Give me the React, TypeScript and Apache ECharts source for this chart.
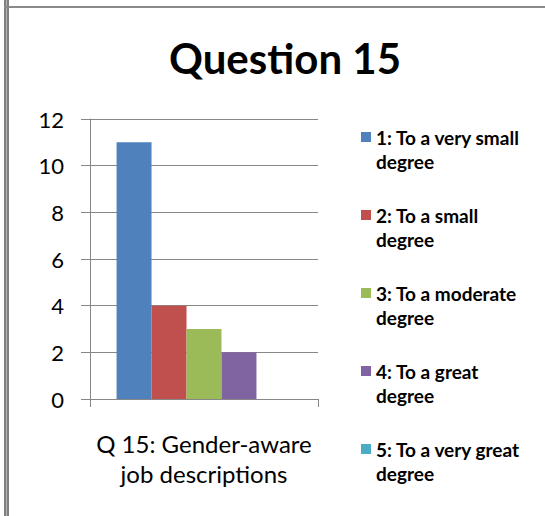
import React, { useEffect, useRef } from "react";
import * as echarts from "echarts";

const titleText = "Question 15";
const categories = ["Q 15: Gender-aware\njob descriptions"];
const seriesNames = [
  "1: To a very small\ndegree",
  "2: To a small\ndegree",
  "3: To a moderate\ndegree",
  "4: To a great\ndegree",
  "5: To a very great\ndegree",
];
const seriesValues = [11, 4, 3, 2, 0];
const seriesColors = ["#4F81BD", "#C0504D", "#9BBB59", "#8064A2", "#4BACC6"];
const yMin = 0;
const yMax = 12;
const yInterval = 2;

const FONT = "Lato, 'Open Sans', sans-serif";
const GRID_COLOR = "#878787";

export default function App() {
  const ref = useRef<HTMLDivElement>(null);
  useEffect(() => {
    if (!ref.current) return;
    const chart = echarts.init(ref.current, null, { renderer: "svg" });
    chart.setOption({
      animation: false,
      backgroundColor: "#ffffff",
      textStyle: { fontFamily: FONT },
      title: {
        text: titleText,
        left: 280,
        top: 32,
        textAlign: "center",
        textStyle: { fontFamily: FONT, fontSize: 42, fontWeight: "bold", color: "#000" },
      },
      grid: { left: 90, right: 227, top: 119, bottom: 117, containLabel: false },
      legend: {
        orient: "vertical",
        left: 361,
        top: 101,
        padding: 0,
        itemWidth: 10,
        itemHeight: 10,
        itemGap: 6,
        icon: "rect",
        data: seriesNames,
        formatter: (name: string) => "\n" + name,
        textStyle: { fontFamily: FONT, fontSize: 19, lineHeight: 24, fontWeight: "bold", color: "#000" },
      },
      xAxis: {
        type: "category",
        data: categories,
        axisLine: { show: true, lineStyle: { color: GRID_COLOR, width: 1 } },
        axisTick: { show: true, length: 8, lineStyle: { color: GRID_COLOR } },
        axisLabel: { margin: 29, fontFamily: FONT, fontSize: 24, lineHeight: 30, color: "#000" },
        splitLine: { show: false },
      },
      yAxis: {
        type: "value",
        min: yMin,
        max: yMax,
        interval: yInterval,
        axisLine: { show: true, lineStyle: { color: GRID_COLOR, width: 1 } },
        axisTick: { show: true, length: 9, lineStyle: { color: GRID_COLOR } },
        axisLabel: { margin: 26, fontFamily: FONT, fontSize: 22, color: "#000" },
        splitLine: { show: true, lineStyle: { color: GRID_COLOR, width: 1 } },
      },
      series: seriesNames.map((name, i) => ({
        type: "bar",
        name,
        data: [seriesValues[i]],
        barGap: "0%",
        barCategoryGap: "23.3%",
        itemStyle: { color: seriesColors[i] },
      })),
      graphic: [
        { type: "rect", left: 4, top: 0, shape: { width: 2, height: 516 }, style: { fill: "#808080" } },
        { type: "rect", left: 6, top: 0, shape: { width: 1, height: 516 }, style: { fill: "#b4b4b4" } },
        { type: "rect", left: 7, top: 0, shape: { width: 2, height: 516 }, style: { fill: "#808080" } },
        { type: "rect", left: 4, top: 6, shape: { width: 541, height: 2 }, style: { fill: "#8a8a8a" } },
      ],
    });
    return () => chart.dispose();
  }, []);
  return (
    <div
      ref={ref}
      style={{ position: "absolute", left: 0, top: 0, width: 545, height: 516 }}
    />
  );
}
